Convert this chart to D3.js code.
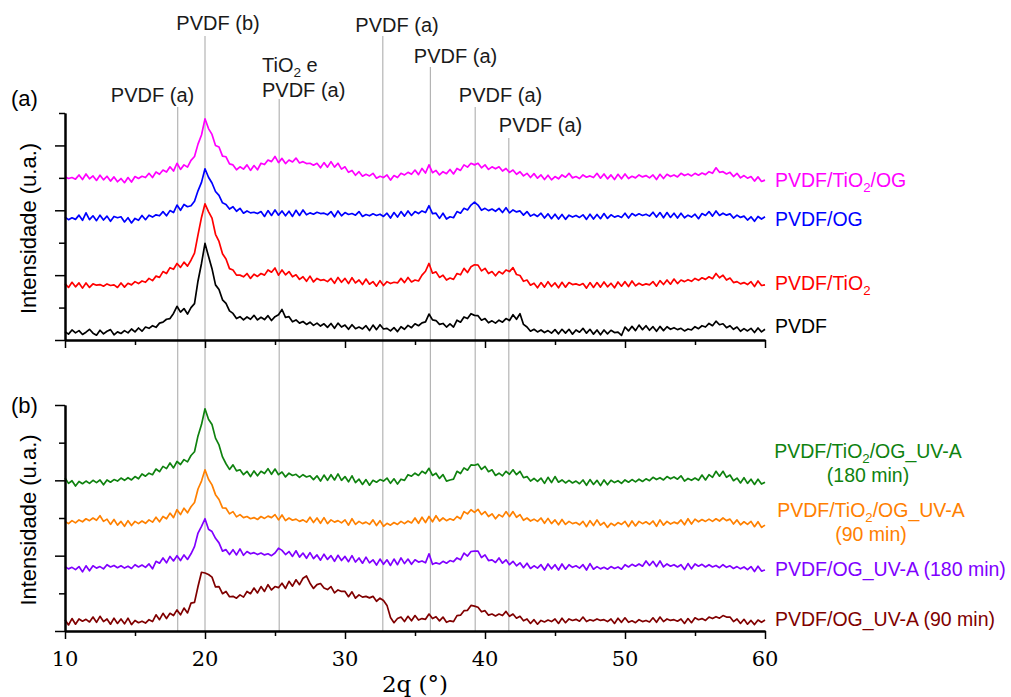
<!DOCTYPE html>
<html>
<head>
<meta charset="utf-8">
<script src="https://cdn.jsdelivr.net/npm/d3@7"></script>
<style>
  body { margin: 0; background: #fff; }
  text { font-family: "Liberation Sans", Arial, sans-serif; }
  text.serif { font-family: "DejaVu Serif", "Liberation Serif", "Noto Serif", serif; }
</style>
</head>
<body>
<svg id="chart" width="1011" height="697"></svg>
<script>
// XRD patterns, 2theta from 10 to 60 deg, one reading every 0.25 deg
const twoTheta = d3.range(201).map(i => 10 + i * 0.25);

// panel (a) - intensities (u.a.), curves already offset as in the figure
const pvdf = [26,18,31,22, 29,17,24,33, 21,15,30,19, 27,32,16,25, 20,29,22,34, 25,37,27,40, 36,44,39,52, 55,64,66,82, 104,86,97,80, 100,112,182,236, 298,258,220,170, 156,124,113,90, 82,66,72,62, 71,64,76,62, 70,63,75,60, 72,78,94,70, 72,56,62,52, 57,48,55,45, 52,43,50,39, 51,36,52,40, 46,33,47,35, 40,34,44,29, 46,32,47,34, 36,28,38,26, 41,33,45,38, 50,44,53,56, 80,62,60,48, 51,40,50,40, 61,55,71,66, 81,76,75,61, 66,53,59,52, 61,55,66,60, 78,64,81,48, 40,27,33,25, 31,23,29,21, 32,19,33,21, 33,18,31,24, 36,21,33,18, 31,16,31,19, 30,23,24,14, 40,28,42,29, 46,32,44,30, 41,27,42,29, 41,33,38,32, 36,28,34,31, 41,35,44,40, 51,44,58,47, 50,38,44,33, 40,27,35,28, 36,23,37,25, 33];

const pvdfTiO2 = [174,162,178,164, 176,160,176,162, 173,169,171,166, 173,168,170,162, 176,163,175,170, 180,174,182,178, 190,183,197,193, 211,205,223,218, 236,224,240,228, 246,268,324,378, 420,396,376,326, 304,266,250,220, 216,200,200,195, 205,190,203,196, 205,200,216,209, 222,200,216,201, 211,195,201,187, 195,181,197,179, 190,184,186,180, 190,175,193,178, 190,174,192,176, 185,171,188,172, 180,166,183,168, 180,174,178,176, 190,177,193,179, 185,182,200,212, 236,206,210,193, 200,185,191,187, 205,201,221,208, 226,232,231,213, 221,205,211,198, 211,204,216,211, 223,202,199,181, 185,169,175,161, 177,163,180,165, 176,161,178,163, 177,171,173,169, 174,160,177,162, 177,163,179,164, 175,161,179,166, 180,165,182,167, 175,169,173,170, 180,166,183,171, 185,172,188,174, 185,180,186,181, 190,184,192,187, 195,189,205,192, 200,185,191,177, 180,173,177,171, 180,165,182,168, 170];

const pvdfOG = [379,371,377,372, 385,369,392,371, 383,368,385,370, 382,366,381,377, 380,364,377,361, 375,369,384,371, 385,379,386,383, 396,383,399,393, 416,400,418,411, 414,428,460,486, 528,502,484,458, 446,423,418,404, 411,397,406,391, 398,392,394,390, 396,381,399,384, 401,385,398,383, 397,381,400,384, 401,386,392,388, 394,390,391,386, 396,380,398,383, 393,387,390,385, 396,381,387,383, 389,384,388,381, 391,376,393,379, 396,382,398,384, 396,390,398,393, 414,390,391,375, 391,373,380,377, 396,391,406,401, 416,425,416,400, 406,399,404,397, 406,393,408,392, 401,395,398,385, 396,382,388,381, 391,376,389,374, 388,373,387,372, 385,379,384,378, 386,372,388,373, 387,374,390,375, 386,379,383,378, 391,376,390,383, 389,384,388,382, 394,379,393,377, 393,378,391,376, 391,377,385,379, 388,374,390,384, 396,382,398,384, 391,385,389,376, 385,378,382,370, 380,366,381,373, 380];

const pvdfTiO2OG = [503,498,501,496, 509,495,512,497, 506,492,508,494, 505,490,503,488, 498,485,501,487, 504,498,505,501, 514,501,518,511, 524,518,534,521, 545,526,540,533, 554,566,604,632, 682,652,634,600, 595,567,565,543, 540,525,534,527, 540,523,538,525, 545,541,555,550, 566,547,560,544, 555,549,561,546, 550,544,545,539, 545,531,547,533, 550,533,545,527, 534,517,523,508, 519,505,511,506, 514,499,505,501, 509,493,507,501, 514,509,517,511, 524,510,529,515, 540,516,523,509, 519,513,526,512, 529,523,540,533, 545,540,545,531, 540,526,534,528, 534,521,529,517, 524,511,519,506, 514,501,513,499, 509,495,508,494, 504,497,509,502, 514,500,504,498, 509,502,506,501, 514,499,512,497, 509,495,511,497, 512,498,505,500, 509,503,507,500, 509,495,511,498, 511,504,509,503, 514,507,512,506, 514,508,515,510, 519,514,531,517, 519,512,517,504, 514,500,507,499, 504,490,503,489, 493];

// panel (b) - after UV-A exposure
const uvOG90 = [30,16,33,18, 32,26,31,24, 37,23,39,25, 32,18,34,20, 32,19,34,17, 28,22,26,21, 30,25,43,30, 47,33,47,41, 56,43,61,48, 74,76,118,156, 154,150,143,117, 118,99,105,91, 92,87,96,90, 105,99,114,101, 118,105,123,109, 118,115,127,113, 132,119,136,123, 140,146,127,113, 123,126,114,110, 118,101,109,105, 105,91,104,87, 96,90,92,88, 92,79,87,81, 68,36,22,33, 37,25,39,27, 41,29,33,31, 45,33,38,27, 37,23,27,25, 41,42,54,55, 68,66,63,51, 54,42,45,40, 45,41,52,39, 45,34,39,27, 32,20,30,18, 28,24,29,25, 32,20,34,22, 32,28,31,26, 37,25,30,27, 32,28,30,25, 32,20,34,23, 35,23,27,22, 30,25,28,24, 35,23,37,25, 32,28,30,26, 32,20,33,22, 35,30,33,28, 37,33,38,34, 41,37,37,25, 32,20,31,18, 28,17,29,23, 29];

const uvOG180 = [171,165,169,163, 171,157,173,160, 173,167,171,165, 176,170,174,168, 173,167,172,166, 176,170,175,169, 178,165,185,180, 194,181,198,186, 200,187,202,190, 205,224,260,278, 298,270,264,246, 234,212,216,203, 216,202,218,201, 211,205,208,203, 207,202,205,200, 207,220,214,203, 211,198,213,196, 207,193,208,192, 202,188,204,190, 200,185,201,187, 198,184,200,183, 194,180,196,181, 189,175,191,177, 189,174,191,176, 194,179,191,177, 189,183,186,181, 205,177,181,178, 185,180,187,184, 194,189,207,199, 211,212,212,195, 202,187,189,182, 194,180,189,176, 185,173,181,168, 180,166,173,167, 176,162,178,165, 176,162,178,164, 176,169,173,167, 176,162,179,164, 171,165,169,164, 171,166,170,164, 176,170,177,172, 178,172,186,174, 185,171,186,170, 178,172,176,170, 176,163,179,165, 178,172,177,170, 176,170,174,168, 176,169,173,166, 171,165,170,163, 171,158,172,159, 162];

const uvTiO2OG90 = [291,285,293,287, 295,290,298,293, 300,294,306,291, 297,283,296,281, 291,278,293,280, 291,285,292,286, 295,289,302,290, 304,298,313,301, 322,309,326,314, 330,341,377,398, 428,403,388,362, 349,327,326,311, 317,303,309,301, 304,298,301,296, 304,299,305,301, 309,295,308,293, 300,294,297,291, 295,289,302,288, 300,286,301,285, 295,289,293,287, 295,281,298,283, 291,285,289,283, 295,280,293,278, 286,281,288,283, 291,285,292,287, 300,286,302,288, 304,290,306,292, 300,293,298,294, 304,298,317,311, 322,315,323,309, 317,304,311,298, 309,303,317,304, 317,302,309,294, 300,292,297,291, 300,286,299,285, 295,282,296,283, 291,285,288,282, 291,277,293,280, 295,281,288,275, 286,280,288,283, 291,277,292,279, 291,285,290,283, 292,278,295,281, 291,284,289,285, 295,282,298,284, 297,290,296,291, 297,291,298,292, 300,293,297,284, 295,282,290,283, 291,277,290,275, 281];

const uvTiO2OG180 = [406,392,399,385, 397,391,398,392, 400,394,401,388, 401,395,402,398, 406,400,407,401, 410,404,417,411, 419,415,430,423, 437,431,446,433, 450,442,455,449, 466,476,518,548, 590,562,548,512, 494,462,444,429, 441,425,428,415, 424,410,425,412, 424,418,431,416, 430,415,422,409, 419,413,416,408, 415,409,412,402, 412,398,414,400, 415,401,417,400, 410,396,412,394, 403,389,402,387, 400,395,402,398, 406,392,404,390, 403,400,415,411, 419,413,424,418, 432,413,419,405, 415,398,401,403, 424,418,433,427, 441,440,443,429, 437,423,428,413, 419,412,424,416, 428,415,424,407, 410,398,405,397, 406,392,408,394, 410,395,401,393, 400,393,398,391, 401,387,402,389, 400,386,401,388, 400,394,399,392, 401,395,402,396, 403,397,404,399, 408,402,407,401, 410,404,409,403, 412,398,405,400, 406,400,414,401, 415,408,424,411, 424,408,414,399, 406,393,407,392, 403,389,403,390, 395];

// reference reflections (deg) and their captions
const peaks = [18.05, 20.0, 25.3, 32.7, 36.1, 39.3, 41.7];
const peakNames = ["PVDF (a)", "PVDF (b)", "TiO₂ e|PVDF (a)", "PVDF (a)", "PVDF (a)", "PVDF (a)", "PVDF (a)"];

const labelsA = ["PVDF/TiO₂/OG", "PVDF/OG", "PVDF/TiO₂", "PVDF"];
const labelsB = ["PVDF/TiO₂/OG_UV-A|(180 min)", "PVDF/TiO₂/OG_UV-A|(90 min)", "PVDF/OG_UV-A (180 min)", "PVDF/OG_UV-A (90 min)"];

const xTicks = [10, 20, 30, 40, 50, 60];
const xMinor = [15, 25, 35, 45, 55];

// ---- layout ----
const svg = d3.select('#chart');
const x = d3.scaleLinear().domain([10, 60]).range([65, 765]);
const ya = d3.scaleLinear().domain([0, 700]).range([340, 113]);
const yb = d3.scaleLinear().domain([0, 600]).range([631, 405]);

const seriesA = [
  { v: pvdfTiO2OG, color: '#ff00ff', label: labelsA[0], ly: 187 },
  { v: pvdfOG, color: '#0000ff', label: labelsA[1], ly: 226 },
  { v: pvdfTiO2, color: '#ff0000', label: labelsA[2], ly: 290 },
  { v: pvdf, color: '#000000', label: labelsA[3], ly: 333 }
];
const seriesB = [
  { v: uvTiO2OG180, color: '#0f820f', label: labelsB[0], ly: 458, cx: 868 },
  { v: uvTiO2OG90, color: '#ff8000', label: labelsB[1], ly: 517, cx: 871 },
  { v: uvOG180, color: '#8000ff', label: labelsB[2], ly: 576 },
  { v: uvOG90, color: '#800000', label: labelsB[3], ly: 626 }
];

// writes a string with "₂" as a real subscript 2
function richText(sel, str, size) {
  const parts = str.split('₂');
  parts.forEach((p, i) => {
    if (i > 0) sel.append('tspan').attr('dy', 5).attr('font-size', size * 0.68).text('2');
    sel.append('tspan').attr('dy', i > 0 ? -5 : 0).text(p);
  });
}

// vertical reference lines + captions
const lineTop = [107, 36, 99, 36, 67, 107, 138];
const capY = [102, 30, 97, 32, 63, 102, 132];
peaks.forEach((p, i) => {
  svg.append('line')
    .attr('x1', x(p)).attr('x2', x(p))
    .attr('y1', lineTop[i]).attr('y2', 631)
    .attr('stroke', '#b4b4b4').attr('stroke-width', 1.2);
  const lines = peakNames[i].split('|');
  if (lines.length === 2) {
    const t1 = svg.append('text').attr('x', 262).attr('y', capY[i] - 25)
      .attr('font-size', 20).attr('fill', '#1a1a1a');
    richText(t1, lines[0], 20);
    svg.append('text').attr('x', 262).attr('y', capY[i])
      .attr('font-size', 20).attr('fill', '#1a1a1a').text(lines[1]);
  } else {
    const cx = [152.5, 218, 0, 397, 455.5, 500.5, 540.5][i];
    svg.append('text').attr('x', cx).attr('y', capY[i])
      .attr('text-anchor', 'middle').attr('font-size', 20).attr('fill', '#1a1a1a')
      .text(lines[0]);
  }
});

// curves
const lineA = d3.line().x((d, i) => x(twoTheta[i])).y(d => ya(d));
const lineB = d3.line().x((d, i) => x(twoTheta[i])).y(d => yb(d));

seriesA.forEach(s => {
  svg.append('path').attr('d', lineA(s.v)).attr('fill', 'none')
    .attr('stroke', s.color).attr('stroke-width', 1.7).attr('stroke-linejoin', 'round');
  const t = svg.append('text').attr('x', 775).attr('y', s.ly)
    .attr('font-size', 19.5).attr('fill', s.color);
  richText(t, s.label, 19.5);
});

seriesB.forEach(s => {
  svg.append('path').attr('d', lineB(s.v)).attr('fill', 'none')
    .attr('stroke', s.color).attr('stroke-width', 1.7).attr('stroke-linejoin', 'round');
  const rows = s.label.split('|');
  if (rows.length === 2) {
    const t = svg.append('text').attr('x', s.cx).attr('y', s.ly)
      .attr('text-anchor', 'middle').attr('font-size', 19.5).attr('fill', s.color);
    richText(t, rows[0], 19.5);
    svg.append('text').attr('x', s.cx).attr('y', s.ly + 24)
      .attr('text-anchor', 'middle').attr('font-size', 19.5).attr('fill', s.color)
      .text(rows[1]);
  } else {
    const t = svg.append('text').attr('x', 775).attr('y', s.ly)
      .attr('font-size', 19.5).attr('fill', s.color);
    richText(t, rows[0], 19.5);
  }
});

// axes
function styleAxis(g, w) {
  g.select('.domain').attr('stroke', '#000').attr('stroke-width', w);
  g.selectAll('.tick line').attr('stroke', '#000').attr('stroke-width', 1.5);
}

function drawPanel(y, top, majorY, minorY, letter) {
  const gx = svg.append('g').attr('transform', `translate(0,${y.range()[0]})`)
    .call(d3.axisBottom(x).tickValues(xTicks).tickSize(8).tickSizeOuter(0).tickFormat(''));
  styleAxis(gx, 2);
  const gxm = svg.append('g').attr('transform', `translate(0,${y.range()[0]})`)
    .call(d3.axisBottom(x).tickValues(xMinor).tickSize(5).tickSizeOuter(0).tickFormat(''));
  styleAxis(gxm, 2);

  const gy = svg.append('g').attr('transform', 'translate(65,0)')
    .call(d3.axisLeft(y).tickValues(majorY).tickSize(10).tickSizeOuter(0).tickFormat(''));
  styleAxis(gy, 2);
  const gym = svg.append('g').attr('transform', 'translate(65,0)')
    .call(d3.axisLeft(y).tickValues(minorY).tickSize(6).tickSizeOuter(0).tickFormat(''));
  styleAxis(gym, 2);

  svg.append('text').attr('x', 11).attr('y', top)
    .attr('font-size', 22).attr('fill', '#000').text(letter);

  const mid = (y.range()[0] + y.range()[1]) / 2;
  svg.append('text')
    .attr('transform', `translate(36,${mid + 2}) rotate(-90)`)
    .attr('text-anchor', 'middle').attr('font-size', 22).attr('fill', '#000')
    .text('Intensidade (u.a.)');
}

drawPanel(ya, 106, [0, 200, 400, 600], [100, 300, 500, 700], '(a)');
drawPanel(yb, 413, [0, 200, 400, 600], [100, 300, 500], '(b)');

// tick labels and title of the shared x axis (serif, as in the figure)
svg.selectAll('.xlab').data(xTicks).enter().append('text')
  .attr('class', 'serif')
  .attr('x', d => x(d)).attr('y', 666)
  .attr('text-anchor', 'middle')
  .attr('font-size', 21).text(d => d);

svg.append('text').attr('class', 'serif').attr('x', 415).attr('y', 692)
  .attr('text-anchor', 'middle')
  .attr('font-size', 23).text('2q (°)');
</script>
</body>
</html>
